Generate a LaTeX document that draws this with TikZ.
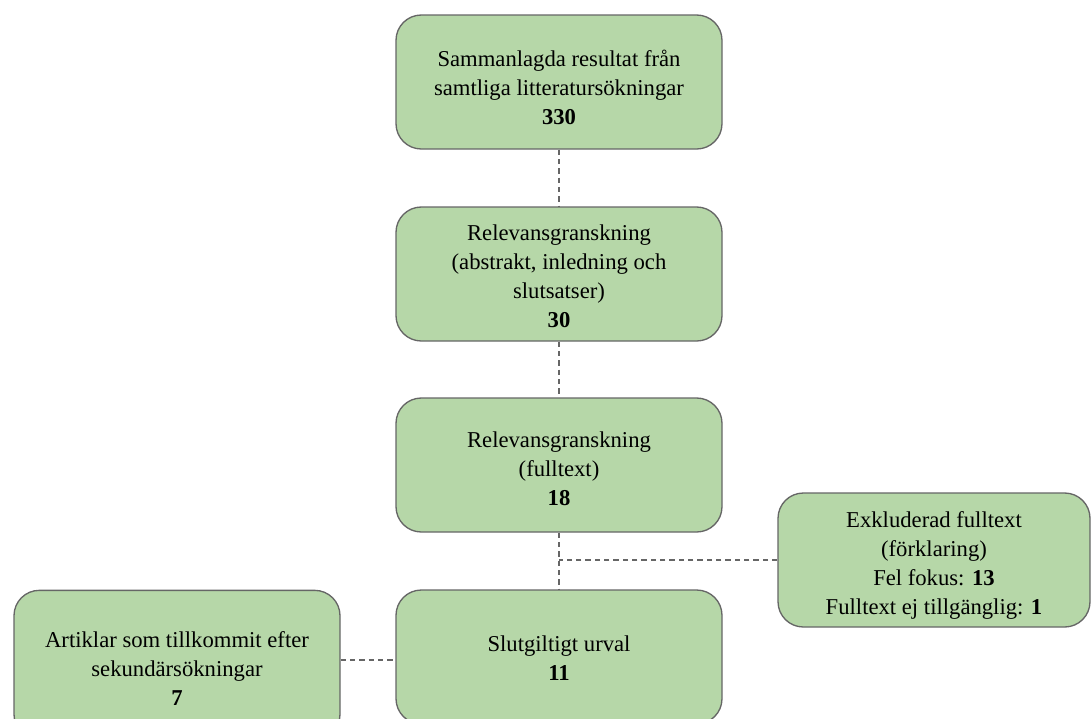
\documentclass[tikz,border=0pt]{standalone}
\usepackage{fontspec}
\setmainfont{Liberation Serif}
\definecolor{boxgreen}{HTML}{B6D7A8}
\definecolor{edgegray}{HTML}{666666}

\begin{document}
\begin{tikzpicture}[x=0.75pt,y=-0.75pt,
        box/.style={draw=edgegray, fill=boxgreen, line width=1pt, rounded corners=19pt,
            minimum width=244.5pt, minimum height=100.5pt, inner sep=0pt},
        boxtext/.style={align=center, font=\fontsize{17}{21.75}\selectfont, inner sep=0pt},
        conn/.style={draw=edgegray, line width=0.9pt, dash pattern=on 4pt off 3pt}]
        \useasboundingbox (0,0) rectangle (1091,718);
        \clip (0,0) rectangle (1091,718);
        % boxes
        \node [box] (sok) at (559, 82) {};
        \node [box] (abs) at (559, 274) {};
        \node [box] (full) at (559, 465) {};
        \node [box] (urval) at (559, 657) {};
        \node [box, minimum width=234pt] (exkl) at (934, 560) {};
        \node [box, minimum height=112pt] (sekund) at (177, 665) {};
        % texts
        \node [boxtext, yshift=-3.75pt] (soktext) at (sok) {Sammanlagda resultat från\\samtliga litteratursökningar\\\textbf{330}};
        \node [boxtext, yshift=-1.8pt] (abstext) at (abs) {Relevansgranskning\\(abstrakt, inledning och\\slutsatser)\\\textbf{30}};
        \node [boxtext, yshift=-3pt] (fulltext) at (full) {Relevansgranskning\\(fulltext)\\\textbf{18}};
        \node [boxtext, yshift=-0.8pt] (urvaltext) at (urval) {Slutgiltigt urval\\\textbf{11}};
        \node [boxtext, yshift=-4pt] (exkltext) at (exkl) {Exkluderad fulltext\\(förklaring)\\Fel fokus: \textbf{13}\\Fulltext ej tillgänglig: \textbf{1}};
        \node [boxtext, yshift=-2.3pt] (sekundtext) at (sekund) {Artiklar som tillkommit efter\\sekundärsökningar\\\textbf{7}};
        % connectors
        \draw [conn] (sok.south) -- (abs.north);
        \draw [conn] (abs.south) -- (full.north);
        \draw [conn] (full.south) -- (urval.north);
        \draw [conn] (exkl.west) -- (exkl.west -| full.south);
        \draw [conn] (sekund.east |- 0,660) -- (urval.west |- 0,660);
    \end{tikzpicture}
\end{document}
